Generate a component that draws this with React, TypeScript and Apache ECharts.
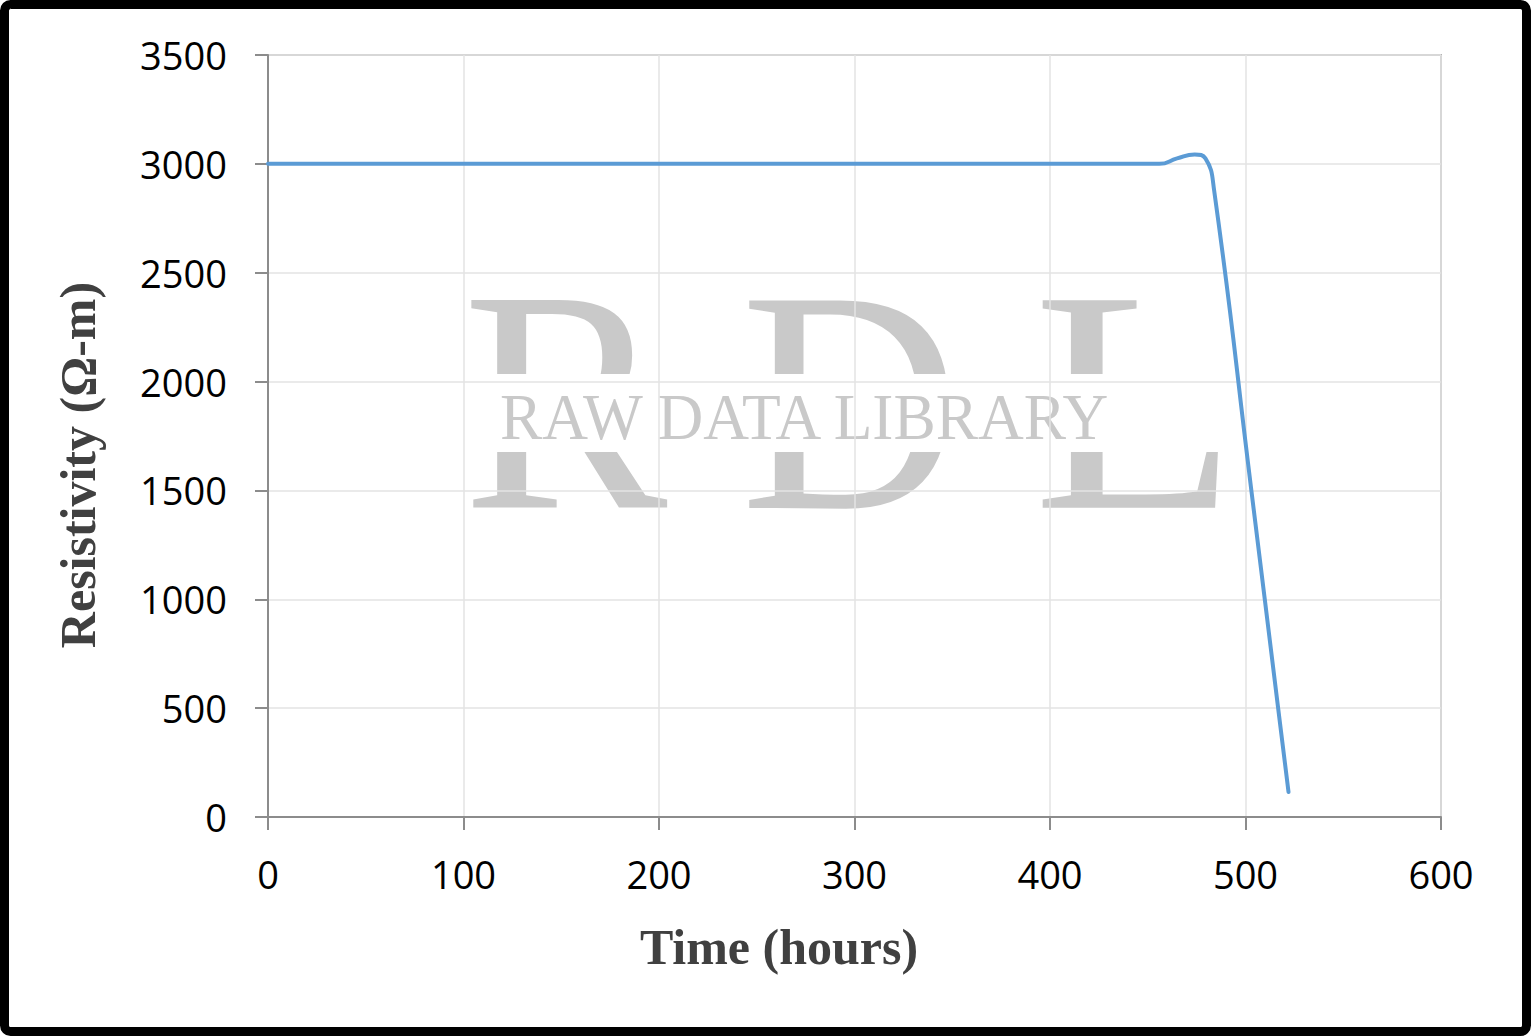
import React, { useEffect, useRef } from "react";
import * as echarts from "echarts";

const timeHours = [0, 100, 200, 300, 400, 450, 456, 465, 474, 479.5, 484, 503, 516.7, 522];
const resistivity = [3000, 3000, 3000, 3000, 3000, 3000, 3000, 3025, 3043, 3025, 2875, 1500, 500, 115];
const xTicks = { min: 0, max: 600, interval: 100 };
const yTicks = { min: 0, max: 3500, interval: 500 };
const xTitle = "Time (hours)";
const yTitle = "Resistivity (Ω-m)";
const watermarkLetters = ["R", "D", "L"];
const watermarkText = "RAW DATA LIBRARY";

export default function App() {
  const ref = useRef<HTMLDivElement>(null);
  useEffect(() => {
    document.body.style.margin = "0";
    const chart = echarts.init(ref.current!, undefined, { renderer: "svg" });
    const data = timeHours.map((t, i) => [t, resistivity[i]]);
    const wmColor = "#c9c9c9";
    const letterX = [462.5, 740.5, 1033];
    const letterScale = [0.97, 0.96, 1.06];
    chart.setOption({
      animation: false,
      backgroundColor: "#ffffff",
      grid: {
        left: 268,
        top: 55,
        right: 90,
        bottom: 219,
        show: true,
        borderColor: "#b3b3b3",
        borderWidth: 2,
        z: 0,
      },
      xAxis: {
        type: "value",
        min: xTicks.min,
        max: xTicks.max,
        interval: xTicks.interval,
        z: 3,
        axisLine: { show: true, lineStyle: { color: "#8c8c8c", width: 2 } },
        axisTick: { show: true, length: 13, lineStyle: { color: "#8c8c8c", width: 2 } },
        axisLabel: {
          margin: 38,
          color: "#000",
          fontSize: 38,
          fontFamily: "Open Sans",
          formatter: (v: number) => String(v),
        },
        splitLine: { show: true, lineStyle: { color: "#e3e3e3", width: 1.5 } },
      },
      yAxis: {
        type: "value",
        min: yTicks.min,
        max: yTicks.max,
        interval: yTicks.interval,
        z: 3,
        axisLine: { show: true, lineStyle: { color: "#8c8c8c", width: 2 } },
        axisTick: { show: true, length: 13, lineStyle: { color: "#8c8c8c", width: 2 } },
        axisLabel: {
          margin: 41,
          color: "#000",
          fontSize: 38,
          fontFamily: "Open Sans",
          formatter: (v: number) => String(v),
        },
        splitLine: { show: true, lineStyle: { color: "#e3e3e3", width: 1.5 } },
      },
      graphic: [
        ...watermarkLetters.map((l, i) => ({
          type: "text",
          x: letterX[i],
          y: 401,
          z: 0,
          scaleX: letterScale[i],
          style: {
            text: l,
            fontFamily: "Liberation Serif",
            fontSize: 317,
            fill: wmColor,
            align: "left",
            verticalAlign: "middle",
            textAlign: "left",
            textVerticalAlign: "middle",
          },
        })),
        {
          type: "rect",
          z: 1,
          shape: { x: 455, y: 374, width: 780, height: 78 },
          style: { fill: "#ffffff" },
        },
        {
          type: "text",
          x: 500,
          y: 417,
          z: 2,
          scaleX: 0.96,
          style: {
            text: watermarkText,
            fontFamily: "Liberation Serif",
            fontSize: 66,
            fill: wmColor,
            align: "left",
            verticalAlign: "middle",
            textAlign: "left",
            textVerticalAlign: "middle",
          },
        },
        {
          type: "text",
          x: 779,
          y: 947,
          z: 10,
          style: {
            text: xTitle,
            fontFamily: "Liberation Serif",
            fontWeight: "bold",
            fontSize: 50,
            fill: "#404040",
            align: "center",
            verticalAlign: "middle",
            textAlign: "center",
            textVerticalAlign: "middle",
          },
        },
        {
          type: "text",
          x: 78,
          y: 465,
          rotation: Math.PI / 2,
          z: 10,
          style: {
            text: yTitle,
            fontFamily: "Liberation Serif",
            fontWeight: "bold",
            fontSize: 50,
            fill: "#404040",
            align: "center",
            verticalAlign: "middle",
            textAlign: "center",
            textVerticalAlign: "middle",
          },
        },
        {
          type: "rect",
          z: 100,
          shape: { x: 4.5, y: 4.5, width: 1522, height: 1027, r: 6 },
          style: { fill: "none", stroke: "#000000", lineWidth: 9 },
        },
      ],
      series: [
        {
          type: "line",
          data,
          z: 5,
          smooth: 0.5,
          showSymbol: false,
          symbol: "none",
          lineStyle: { color: "#5b9bd5", width: 4, cap: "round", join: "round" },
        },
      ],
    });
    return () => chart.dispose();
  }, []);
  return <div ref={ref} style={{ width: 1531, height: 1036 }} />;
}
